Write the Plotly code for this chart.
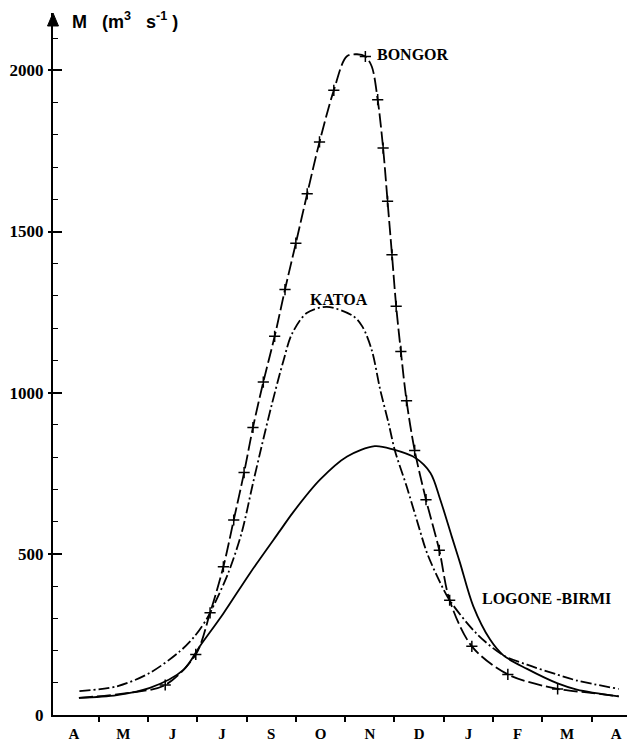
import plotly.graph_objects as go

# ---------------- data ----------------
month_labels = ["A", "M", "J", "J", "S", "O", "N", "D", "J", "F", "M", "A"]
month_pos = list(range(12))
month_ticks = [i + 0.5 for i in range(11)]

y_ticks = [0, 500, 1000, 1500, 2000]

logone_x = [0.10, 0.87, 1.54, 2.22, 2.56, 3.03, 3.57, 4.18, 4.44, 4.99, 5.54,
            6.10, 6.47, 6.92, 7.23, 7.43, 7.66, 7.83, 8.10, 8.44, 8.71, 9.19,
            9.81, 10.20, 11.05]
logone_y = [53, 62, 84, 140, 215, 315, 440, 572, 628, 730, 802,
            834, 824, 798, 751, 668, 555, 472, 337, 234, 185, 143,
            98, 79, 58]

katoa_x = [0.11, 0.87, 1.54, 2.15, 2.45, 2.70, 2.85, 3.13, 3.40, 3.62, 3.80,
           4.01, 4.25, 4.42, 4.72, 5.13, 5.67, 5.85, 6.04, 6.21, 6.38, 6.51,
           6.75, 6.99, 7.16, 7.43, 7.62, 8.17, 8.71, 9.19, 9.81, 10.20, 11.05]
katoa_y = [74, 89, 131, 198, 245, 300, 345, 441, 565, 712, 830,
           962, 1100, 1182, 1247, 1266, 1237, 1205, 1132, 1010, 906, 820,
           708, 586, 503, 410, 356, 252, 185, 156, 125, 107, 81]

bongor_x = [0.10, 1.14, 1.85, 2.47, 2.76, 3.03, 3.24, 3.45, 3.63, 3.84, 4.07,
            4.28, 4.50, 4.73, 4.98, 5.27, 5.53, 5.74, 5.91, 6.04, 6.16, 6.27,
            6.36, 6.45, 6.535, 6.63, 6.745, 6.91, 7.14, 7.41, 7.62, 8.07, 8.80,
            9.81, 10.40, 11.05]
bongor_y = [53, 69, 93, 188, 317, 460, 605, 752, 892, 1033, 1175,
            1320, 1464, 1617, 1778, 1938, 2043, 2050, 2043, 2012, 1909, 1759,
            1594, 1428, 1268, 1128, 975, 821, 668, 511, 356, 213, 126,
            81, 70, 58]
bongor_cross = [0, 0, 1, 1, 1, 1, 1, 1, 1, 1, 1,
                1, 1, 1, 1, 1, 0, 0, 1, 0, 1, 1,
                1, 1, 1, 1, 1, 1, 1, 1, 1, 1, 1,
                1, 0, 0]

# ---------------- figure ----------------
SERIF = "Liberation Serif"
SANS = "Liberation Sans"
LW = 1.8

fig = go.Figure()

fig.add_trace(go.Scatter(
    x=logone_x, y=logone_y, mode="lines",
    line=dict(color="black", width=LW, shape="spline", smoothing=0.9),
    hoverinfo="skip", showlegend=False))

fig.add_trace(go.Scatter(
    x=katoa_x, y=katoa_y, mode="lines",
    line=dict(color="black", width=LW, shape="spline", smoothing=0.9,
              dash="11px,3px,2px,3px"),
    hoverinfo="skip", showlegend=False))

fig.add_trace(go.Scatter(
    x=bongor_x, y=bongor_y, mode="lines",
    line=dict(color="black", width=LW, shape="spline", smoothing=0.9,
              dash="14px,4px"),
    hoverinfo="skip", showlegend=False))

cx = [x for x, c in zip(bongor_x, bongor_cross) if c]
cy = [y for y, c in zip(bongor_y, bongor_cross) if c]
fig.add_trace(go.Scatter(
    x=cx, y=cy, mode="markers",
    marker=dict(symbol="cross-thin", size=8, color="black",
                line=dict(color="black", width=1.5)),
    hoverinfo="skip", showlegend=False))

# empty trace so the overlay axis is drawn
fig.add_trace(go.Scatter(x=[], y=[], yaxis="y2", showlegend=False))

tickfont = dict(family=SERIF, size=17, color="black", weight="bold")

# the page body adds an 8px margin, so the figure is drawn 8px smaller
fig.update_layout(
    width=627, height=736,
    margin=dict(l=45, r=5, t=5, b=29),
    paper_bgcolor="white", plot_bgcolor="white",
    xaxis=dict(
        range=[-0.426, 11.278], showline=True, linecolor="black", linewidth=2,
        tickmode="array", tickvals=month_pos, ticktext=month_labels, ticks="",
        showgrid=False, zeroline=False, automargin=False,
        tickfont=dict(family=SERIF, size=15, color="black", weight="bold"),
        ticklabelstandoff=4,
        minor=dict(tickmode="array", tickvals=month_ticks, ticks="outside",
                   ticklen=5, tickwidth=1.5, tickcolor="black", showgrid=False),
    ),
    yaxis=dict(
        range=[0, 2178], showline=True, linecolor="black", linewidth=2,
        tickmode="array", tickvals=y_ticks, ticks="inside", ticklen=9,
        tickwidth=1.5, tickcolor="black", automargin=False,
        minor=dict(dtick=100, tick0=0, ticks="inside", ticklen=5,
                   tickwidth=1.2, tickcolor="black", showgrid=False),
        showgrid=False, zeroline=False, tickfont=tickfont,
        ticklabelstandoff=4,
    ),
    yaxis2=dict(
        range=[0, 2178], overlaying="y", side="left", automargin=False,
        tickmode="array", tickvals=y_ticks[1:], ticks="outside", ticklen=4,
        tickwidth=1.5, tickcolor="black", showticklabels=False,
        showline=False, showgrid=False, zeroline=False,
    ),
)

# arrow head on top of the y axis
fig.add_shape(type="path", xref="paper", yref="paper",
              path="M -0.0095,0.9815 L 0,1.0 L 0.0095,0.9815 Z",
              fillcolor="black", line=dict(color="black", width=1))

# axis title
fig.add_annotation(xref="paper", yref="paper", x=0.029, y=0.99,
                   xanchor="left", yanchor="middle", showarrow=False,
                   text="<b>M&nbsp;&nbsp;&nbsp;(m<sup>3</sup>&nbsp;&nbsp;&nbsp;s<sup>-1</sup>&nbsp;)</b>",
                   font=dict(family=SANS, size=18, color="black"))

# series labels
labfont = dict(family=SERIF, size=16, color="black", weight="bold")
fig.add_annotation(x=6.11, y=2049, xanchor="left", yanchor="middle",
                   text="BONGOR", showarrow=False, font=labfont)
fig.add_annotation(x=4.75, y=1289, xanchor="left", yanchor="middle",
                   text="KATOA", showarrow=False, font=labfont)
fig.add_annotation(x=8.24, y=361, xanchor="left", yanchor="middle",
                   text="LOGONE -BIRMI", showarrow=False, font=labfont)

fig.write_html("out.html")
